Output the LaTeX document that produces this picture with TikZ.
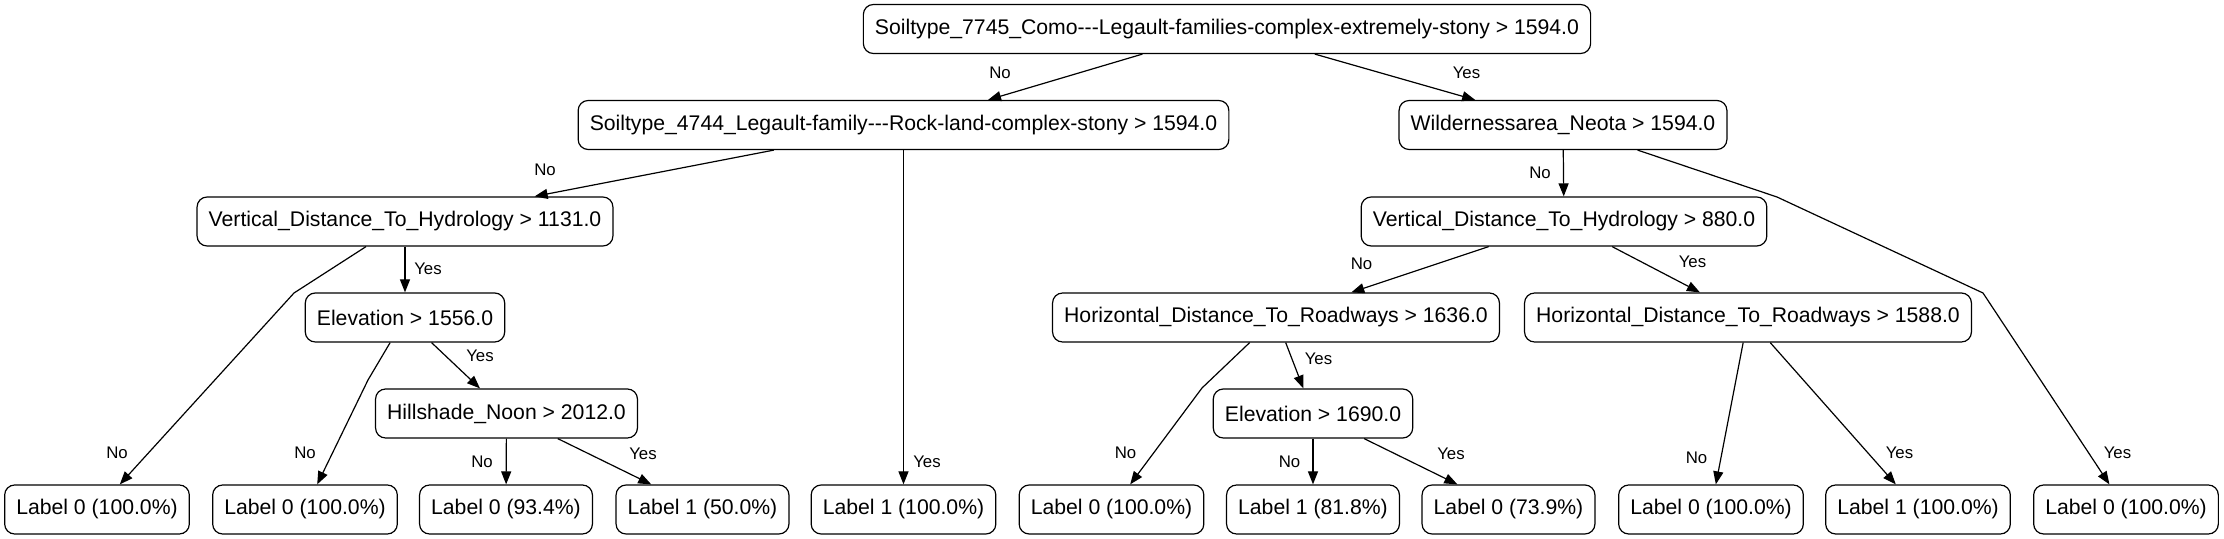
\documentclass[tikz,border=0pt]{standalone}
\usepackage{fontspec}
\setmainfont{Liberation Sans}[Ligatures=TeXOff]
\usetikzlibrary{arrows.meta}
\tikzset{
  split/.style={draw, rounded corners=5pt, line width=0.6pt, minimum height=24.5pt, inner xsep=5.8pt, font=\fontsize{10.6}{12}\selectfont},
  leaf/.style={split},
  lab/.style={inner sep=0pt, font=\fontsize{8.4}{10}\selectfont},
  br/.style={-{Triangle[length=6.5pt,width=5pt]}, line width=0.6pt}
}
\begin{document}
\begin{tikzpicture}[x=0.5pt,y=-0.5pt]
  \useasboundingbox (0,0) rectangle (2224,539);
  \node[split] (S7745) at (1227,29) {Soiltype\_7745\_Como---Legault-families-complex-extremely-stony > 1594.0};
  \node[split] (S4744) at (903.5,125) {Soiltype\_4744\_Legault-family---Rock-land-complex-stony > 1594.0};
  \node[split] (W) at (1563,125) {Wildernessarea\_Neota > 1594.0};
  \node[split] (V1131) at (405,221.5) {Vertical\_Distance\_To\_Hydrology > 1131.0};
  \node[split] (V880) at (1564,221.5) {Vertical\_Distance\_To\_Hydrology > 880.0};
  \node[split] (E1556) at (405,317.5) {Elevation > 1556.0};
  \node[split] (H1636) at (1276,317.5) {Horizontal\_Distance\_To\_Roadways > 1636.0};
  \node[split] (H1588) at (1748,317.5) {Horizontal\_Distance\_To\_Roadways > 1588.0};
  \node[split] (H2012) at (506.5,413.5) {Hillshade\_Noon > 2012.0};
  \node[split] (E1690) at (1313,413.5) {Elevation > 1690.0};
  \node[leaf] (L1) at (97,509.5) {Label 0 (100.0\%)};
  \node[leaf] (L2) at (305,509.5) {Label 0 (100.0\%)};
  \node[leaf] (L3) at (506,509.5) {Label 0 (93.4\%)};
  \node[leaf] (L4) at (702.5,509.5) {Label 1 (50.0\%)};
  \node[leaf] (L5) at (903.5,509.5) {Label 1 (100.0\%)};
  \node[leaf] (L6) at (1111.5,509.5) {Label 0 (100.0\%)};
  \node[leaf] (L7) at (1313,509.5) {Label 1 (81.8\%)};
  \node[leaf] (L8) at (1508.5,509.5) {Label 0 (73.9\%)};
  \node[leaf] (L9) at (1711,509.5) {Label 0 (100.0\%)};
  \node[leaf] (L10) at (1918,509.5) {Label 1 (100.0\%)};
  \node[leaf] (L11) at (2126,509.5) {Label 0 (100.0\%)};
  \coordinate (bV1131) at (294,293);
  \coordinate (bE1556) at (368,380);
  \coordinate (bH1636) at (1202,388);
  \coordinate (bW1) at (1777,197);
  \coordinate (bW2) at (1983,293);
  \path[br] (S7745) edge (S4744);
  \path[br] (S7745) edge (W);
  \path[br] (S4744) edge (V1131);
  \path[br] (S4744) edge (L5);
  \path[br] (W) edge (V880);
  \draw[br] (W) -- (bW1) -- (bW2) -- (L11);
  \draw[br] (V1131) -- (bV1131) -- (L1);
  \path[br] (V1131) edge (E1556);
  \draw[br] (E1556) -- (bE1556) -- (L2);
  \path[br] (E1556) edge (H2012);
  \path[br] (H2012) edge (L3);
  \path[br] (H2012) edge (L4);
  \path[br] (V880) edge (H1636);
  \path[br] (V880) edge (H1588);
  \draw[br] (H1636) -- (bH1636) -- (L6);
  \path[br] (H1636) edge (E1690);
  \path[br] (E1690) edge (L7);
  \path[br] (E1690) edge (L8);
  \path[br] (H1588) edge (L9);
  \path[br] (H1588) edge (L10);
  \node[lab] (nS4744) at (1000,73) {No};
  \node[lab] (yW) at (1466.5,73) {Yes};
  \node[lab] (nV1131) at (545,170) {No};
  \node[lab] (yL5) at (927,462) {Yes};
  \node[lab] (nV880) at (1540,173) {No};
  \node[lab] (yL11) at (2117.5,453) {Yes};
  \node[lab] (nL1) at (117,453) {No};
  \node[lab] (yE1556) at (428,269) {Yes};
  \node[lab] (nL2) at (305,453) {No};
  \node[lab] (yH2012) at (480,356) {Yes};
  \node[lab] (nL3) at (482,462) {No};
  \node[lab] (yL4) at (643,454) {Yes};
  \node[lab] (nH1636) at (1361.5,263.5) {No};
  \node[lab] (yH1588) at (1692.5,262) {Yes};
  \node[lab] (nL6) at (1125.5,453) {No};
  \node[lab] (yE1690) at (1318.5,359) {Yes};
  \node[lab] (nL7) at (1289.5,462) {No};
  \node[lab] (yL8) at (1451,454) {Yes};
  \node[lab] (nL9) at (1696.5,458) {No};
  \node[lab] (yL10) at (1899.5,452.5) {Yes};
\end{tikzpicture}
\end{document}
